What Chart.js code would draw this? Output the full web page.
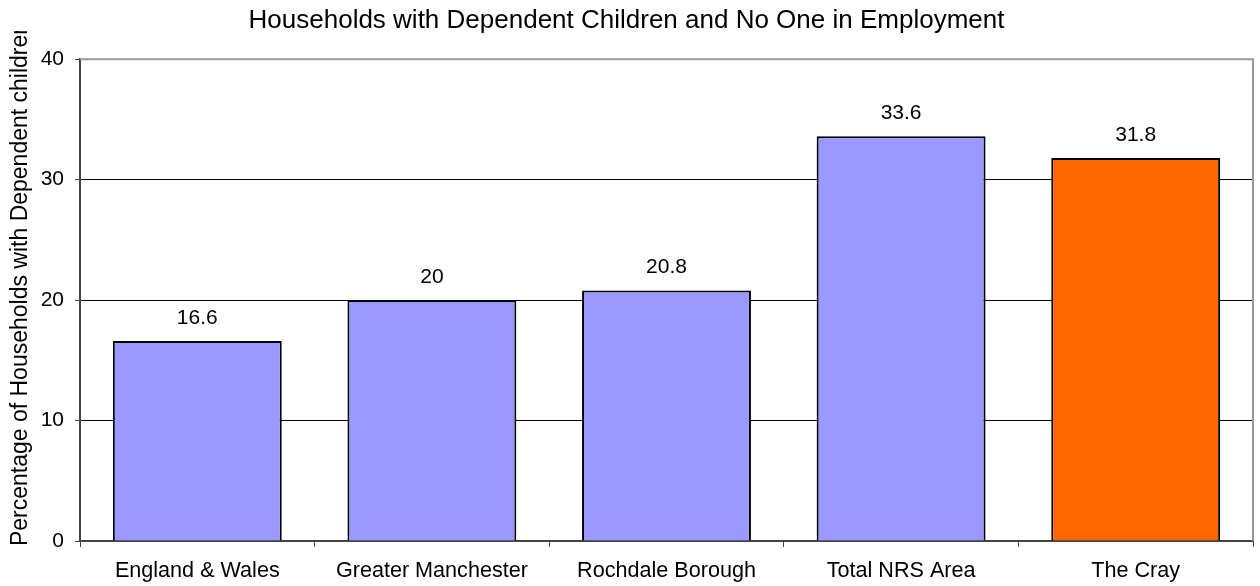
<!DOCTYPE html>
<html>
<head>
<meta charset="utf-8">
<script src="https://cdn.jsdelivr.net/npm/chart.js@4/dist/chart.umd.min.js"></script>
<style>
  html, body { margin: 0; padding: 0; background: #fff; }
  #wrap { width: 1260px; height: 586px; }
</style>
</head>
<body>
<div id="wrap"><canvas id="chart"></canvas></div>
<script>
// chart values
const categories = ["England & Wales", "Greater Manchester", "Rochdale Borough", "Total NRS Area", "The Cray"];
const values = [16.6, 20, 20.8, 33.6, 31.8];
const barColors = ["#9999FF", "#9999FF", "#9999FF", "#9999FF", "#FF6600"];
const yTicks = [0, 10, 20, 30, 40];
const yTitle = "Percentage of Households with Dependent children";

const font = "'Liberation Sans', Arial, sans-serif";

// value labels, gray frame on top/right, and the (clipped) y axis title
const extras = {
  id: "extras",
  afterDatasetsDraw(chart) {
    const ctx = chart.ctx;
    const area = chart.chartArea;
    ctx.save();
    ctx.strokeStyle = "#999";
    ctx.lineWidth = 2;
    ctx.beginPath();
    ctx.moveTo(area.left, area.top);
    ctx.lineTo(area.right, area.top);
    ctx.lineTo(area.right, area.bottom);
    ctx.stroke();

    ctx.fillStyle = "#000";
    ctx.font = "21px " + font;
    ctx.textAlign = "center";
    ctx.textBaseline = "alphabetic";
    chart.getDatasetMeta(0).data.forEach((bar, i) => {
      ctx.fillText(String(values[i]), bar.x, bar.y - 17);
    });
    ctx.restore();

    // axis title, cut off at the top like the original
    ctx.save();
    ctx.beginPath();
    ctx.rect(0, 31, 40, 586);
    ctx.clip();
    ctx.font = "23px " + font;
    ctx.fillStyle = "#000";
    ctx.textAlign = "center";
    ctx.textBaseline = "alphabetic";
    ctx.translate(27, 284);
    ctx.rotate(-Math.PI / 2);
    ctx.fillText(yTitle, 0, 0);
    ctx.restore();
  }
};

new Chart(document.getElementById("chart"), {
  type: "bar",
  data: {
    labels: categories,
    datasets: [{
      data: values,
      backgroundColor: barColors,
      borderColor: "#000",
      borderWidth: 2,
      barPercentage: 0.72,
      categoryPercentage: 1
    }]
  },
  options: {
    responsive: true,
    maintainAspectRatio: false,
    animation: false,
    layout: { padding: { top: 0, right: 7, left: 0, bottom: 0 } },
    plugins: {
      legend: { display: false },
      tooltip: { enabled: false },
      title: {
        display: true,
        text: "Households with Dependent Children and No One in Employment",
        color: "#000",
        font: { family: font, size: 26, weight: "normal" },
        padding: { top: 5, bottom: 23 }
      }
    },
    scales: {
      x: {
        offset: true,
        afterFit(s) { s.height = 45; },
        grid: {
          offset: true,
          drawOnChartArea: false,
          color: "#444",
          tickLength: 6,
          lineWidth: 1
        },
        border: { color: "#444", width: 2 },
        ticks: {
          color: "#000",
          font: { family: font, size: 21.6 },
          padding: 11,
          maxRotation: 0
        }
      },
      y: {
        min: 0,
        max: 40,
        afterFit(s) { s.width = 80; },
        afterBuildTicks(axis) {
          axis.ticks = yTicks.map(v => ({ value: v }));
        },
        grid: {
          color: ctx => (ctx.tick && ctx.tick.value === 40 ? "rgba(0,0,0,0)" : "#000"),
          lineWidth: 1,
          tickLength: 5,
          tickColor: "#444"
        },
        border: { color: "#444", width: 2 },
        ticks: {
          color: "#000",
          font: { family: font, size: 21 },
          padding: 11
        }
      }
    }
  },
  plugins: [extras]
});
</script>
</body>
</html>
